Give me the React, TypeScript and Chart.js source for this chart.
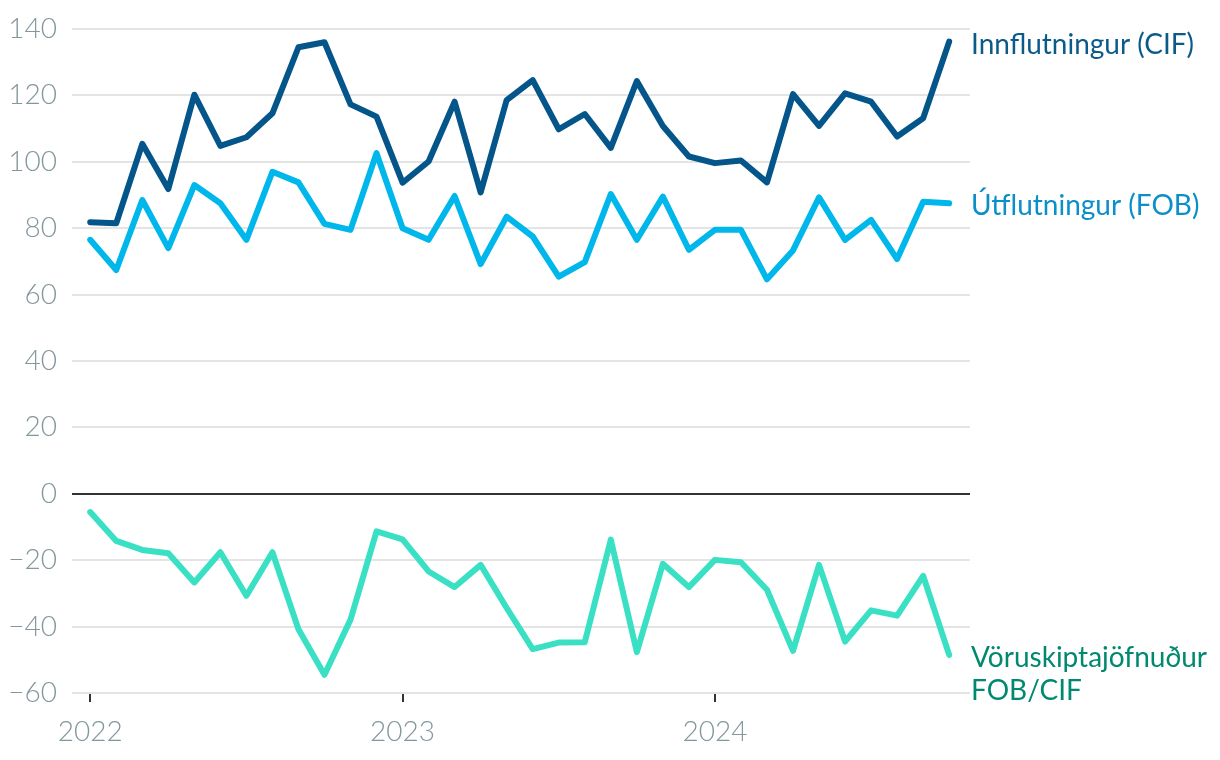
import React, { useEffect, useRef } from "react";
import { Chart, registerables } from "chart.js";

Chart.register(...registerables);

// Months Jan 2022 .. Oct 2024
const months: string[] = [
  "2022-01", "2022-02", "2022-03", "2022-04", "2022-05", "2022-06",
  "2022-07", "2022-08", "2022-09", "2022-10", "2022-11", "2022-12",
  "2023-01", "2023-02", "2023-03", "2023-04", "2023-05", "2023-06",
  "2023-07", "2023-08", "2023-09", "2023-10", "2023-11", "2023-12",
  "2024-01", "2024-02", "2024-03", "2024-04", "2024-05", "2024-06",
  "2024-07", "2024-08", "2024-09", "2024-10",
];

const innflutningur: number[] = [
  81.8, 81.5, 105.4, 91.8, 120.2, 104.8, 107.4, 114.6, 134.5, 136.0, 117.3, 113.6,
  93.7, 100.1, 118.1, 90.8, 118.6, 124.6, 109.8, 114.4, 104.2, 124.3, 110.8, 101.6,
  99.6, 100.4, 93.8, 120.4, 110.8, 120.6, 118.1, 107.6, 113.1, 136.2,
];

const utflutningur: number[] = [
  76.5, 67.4, 88.5, 74.0, 93.0, 87.5, 76.5, 97.0, 93.8, 81.3, 79.5, 102.6,
  80.0, 76.5, 89.7, 69.2, 83.5, 77.5, 65.4, 69.8, 90.3, 76.5, 89.5, 73.5,
  79.5, 79.5, 64.6, 73.3, 89.3, 76.5, 82.5, 70.7, 88.0, 87.5,
];

const vorujofnudur: number[] = [
  -5.5, -14.2, -16.9, -17.9, -26.7, -17.6, -30.7, -17.6, -40.8, -54.5, -37.9, -11.3,
  -13.7, -23.4, -28.1, -21.4, -34.4, -46.8, -44.8, -44.7, -13.8, -47.7, -21.1, -28.1,
  -19.9, -20.6, -28.9, -47.3, -21.4, -44.5, -35.1, -36.7, -24.7, -48.5,
];

const seriesNames: string[][] = [
  ["Innflutningur (CIF)"],
  ["Útflutningur (FOB)"],
  ["Vöruskiptajöfnuður", "FOB/CIF"],
];

const yearTickLabels: string[] = ["2022", "2023", "2024"];

const toPoints = (vals: number[]) => vals.map((v, i) => ({ x: i, y: v }));

const endLabelPlugin = {
  id: "endLabels",
  afterDatasetsDraw(chart: any) {
    const ctx = chart.ctx;
    const area = chart.chartArea;
    ctx.save();
    ctx.font = "400 28px Lato";
    ctx.textAlign = "left";
    ctx.textBaseline = "middle";
    chart.data.datasets.forEach((ds: any, i: number) => {
      const meta = chart.getDatasetMeta(i);
      const pt = meta.data[meta.data.length - 1];
      if (!pt) return;
      const lines: string[] = ds.endLabel;
      ctx.fillStyle = ds.labelColor;
      lines.forEach((line: string, j: number) => {
        ctx.fillText(line, area.right + 1, pt.y + 3 + j * 33);
      });
    });
    ctx.restore();
  },
};

export default function App() {
  const ref = useRef<HTMLCanvasElement | null>(null);

  useEffect(() => {
    if (!ref.current) return;
    const chart = new Chart(ref.current, {
      type: "line",
      data: {
        labels: months,
        datasets: [
          {
            data: toPoints(innflutningur),
            borderColor: "#03558a",
            labelColor: "#0c5a8a",
            endLabel: seriesNames[0],
          } as any,
          {
            data: toPoints(utflutningur),
            borderColor: "#00b7ec",
            labelColor: "#0a8fc7",
            endLabel: seriesNames[1],
          } as any,
          {
            data: toPoints(vorujofnudur),
            borderColor: "#3ae0c4",
            labelColor: "#00896f",
            endLabel: seriesNames[2],
          } as any,
        ].map((d) => ({
          ...d,
          borderWidth: 6,
          pointRadius: 0,
          tension: 0,
          borderCapStyle: "round",
          borderJoinStyle: "round",
          fill: false,
        })),
      },
      options: {
        animation: false,
        responsive: true,
        maintainAspectRatio: false,
        layout: { padding: { top: 21, right: 242, bottom: 0, left: 0 } },
        plugins: {
          legend: { display: false },
          tooltip: { enabled: false },
        },
        scales: {
          x: {
            type: "linear",
            min: -0.7,
            max: 33.8,
            afterBuildTicks: (scale: any) => {
              scale.ticks = yearTickLabels.map((_, i) => ({ value: i * 12 }));
            },
            afterFit: (scale: any) => {
              scale.height = 59;
              scale.paddingLeft = 0;
              scale.paddingRight = 0;
            },
            ticks: {
              callback: (v: any) => yearTickLabels[Math.round(Number(v) / 12)] ?? "",
              font: { family: "Lato", weight: 300, size: 28 },
              color: "#83979c",
              padding: 13,
              maxRotation: 0,
            },
            grid: {
              drawOnChartArea: false,
              drawTicks: true,
              tickLength: 9,
              tickColor: "#333333",
              lineWidth: 2,
            },
            border: { display: false },
          },
          y: {
            min: -60,
            max: 140,
            afterFit: (scale: any) => {
              scale.width = 64;
              scale.paddingTop = 0;
              scale.paddingBottom = 0;
            },
            ticks: {
              stepSize: 20,
              callback: (v: any) => String(v).replace("-", "\u2212"),
              font: { family: "Lato", weight: 300, size: 28 },
              color: "#83979c",
              padding: 15,
            },
            grid: {
              drawTicks: false,
              color: (c: any) => (c.tick && c.tick.value === 0 ? "#333333" : "#e4e4e4"),
              lineWidth: 2,
            },
            border: { display: false },
          },
        },
      } as any,
      plugins: [endLabelPlugin],
    });
    return () => chart.destroy();
  }, []);

  return (
    <div style={{ width: 1204, height: 744, position: "relative" }}>
      <canvas ref={ref} />
    </div>
  );
}
